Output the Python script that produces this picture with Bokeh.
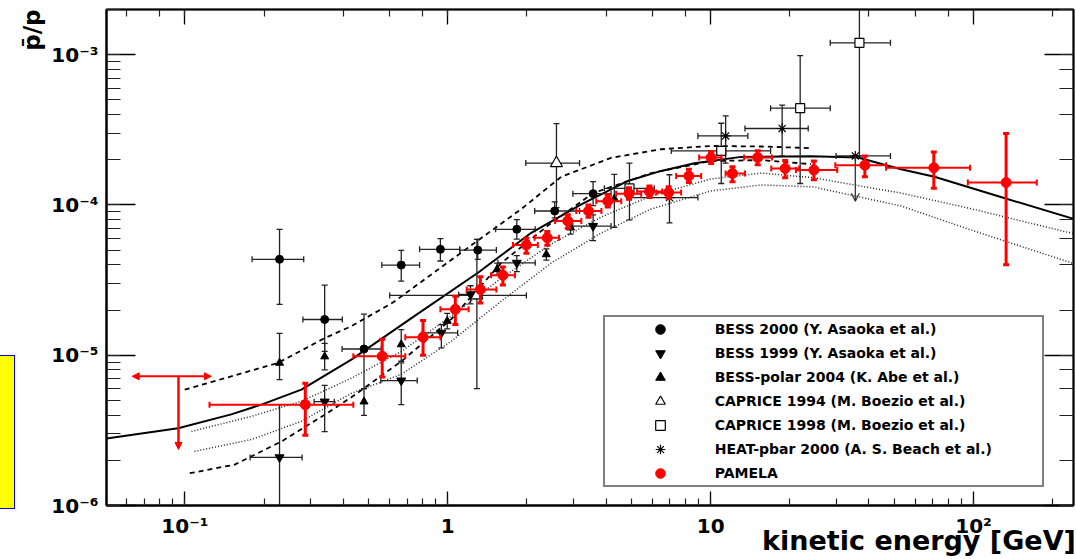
import numpy as np
from bokeh.plotting import figure
from bokeh.models import (Range1d, LogAxis, LogTicker, CustomJSTickFormatter, Legend, LegendItem,
                          Arrow, NormalHead, OpenHead, Div, ColumnDataSource, Title)
from bokeh.layouts import row
from bokeh.embed import file_html
from bokeh.resources import INLINE

# ---------------- data ----------------
# PAMELA
pam_x = [0.287, 0.563, 0.805, 1.068, 1.33, 1.62, 1.99, 2.39, 2.86, 3.43, 4.06, 4.89, 5.85, 6.92, 8.26,
         10.04, 12.1, 15.1, 19.2, 24.7, 38.6, 70.6, 133]
pam_y = [4.69e-6, 9.85e-6, 1.32e-5, 2.02e-5, 2.74e-5, 3.41e-5, 5.41e-5, 6.05e-5, 7.82e-5, 9.12e-5, 1.06e-4,
         1.19e-4, 1.23e-4, 1.21e-4, 1.56e-4, 2.07e-4, 1.62e-4, 2.07e-4, 1.75e-4, 1.71e-4, 1.84e-4, 1.77e-4, 1.41e-4]
pam_ylo = [2.93e-6, 7.17e-6, 1.0e-5, 1.6e-5, 2.23e-5, 2.93e-5, 4.78e-5, 5.4e-5, 7.0e-5, 8.3e-5, 9.7e-5,
           1.09e-4, 1.12e-4, 1.11e-4, 1.41e-4, 1.89e-4, 1.43e-4, 1.85e-4, 1.52e-4, 1.47e-4, 1.54e-4, 1.29e-4, 4.0e-5]
pam_yhi = [6.5e-6, 1.28e-5, 1.70e-5, 2.47e-5, 3.33e-5, 3.86e-5, 6.0e-5, 6.67e-5, 8.6e-5, 1.0e-4, 1.17e-4,
           1.3e-4, 1.34e-4, 1.32e-4, 1.73e-4, 2.27e-4, 1.8e-4, 2.3e-4, 1.98e-4, 1.96e-4, 2.12e-4, 2.25e-4, 2.99e-4]
pam_xlo = [0.124, 0.437, 0.689, 0.937, 1.18, 1.46, 1.77, 2.14, 2.56, 3.08, 3.67, 4.37, 5.25, 6.21, 7.39,
           9.04, 11.4, 13.4, 17.0, 21.1, 29.8, 46.5, 95.1]
pam_xhi = [0.437, 0.689, 0.937, 1.20, 1.53, 1.80, 2.20, 2.65, 3.22, 3.84, 4.57, 5.44, 6.54, 7.72, 9.20,
           11.0, 13.5, 17.1, 21.7, 30.3, 46.5, 97.0, 174]
# PAMELA upper limit
pam_ul_x = 0.0945
pam_ul_y = 7.24e-6
pam_ul_xlo = 0.063
pam_ul_xhi = 0.126
pam_ul_ylo = 2.36e-6

# BESS 2000
b00_x = [0.229, 0.340, 0.480, 0.665, 0.937, 1.30, 1.83, 2.55, 3.57]
b00_y = [4.35e-5, 1.73e-5, 1.10e-5, 3.98e-5, 5.07e-5, 5.01e-5, 6.89e-5, 9.12e-5, 1.19e-4]
b00_ylo = [2.18e-5, 1.06e-5, 6.0e-6, 3.11e-5, 4.24e-5, 4.35e-5, 5.93e-5, 8.2e-5, 9.9e-5]
b00_yhi = [6.89e-5, 2.93e-5, 1.88e-5, 4.99e-5, 5.97e-5, 5.9e-5, 8.0e-5, 1.05e-4, 1.43e-4]
b00_xlo = [0.180, 0.281, 0.396, 0.561, 0.781, 1.11, 1.52, 2.14, 2.99]
b00_xhi = [0.283, 0.397, 0.558, 0.781, 1.11, 1.53, 2.15, 3.17, 4.18]

# BESS 1999
b99_x = [0.229, 0.340, 0.665, 0.945, 1.22, 1.83, 3.57]
b99_y = [2.09e-6, 4.91e-6, 6.78e-6, 1.41e-5, 2.54e-5, 4.12e-5, 7.24e-5]
b99_ylo = [5e-7, 3.1e-6, 4.69e-6, 1.12e-5, 2.2e-5, 3.6e-5, 5.8e-5]
b99_yhi = [4.69e-6, 6.3e-6, 8.89e-6, 1.6e-5, 2.9e-5, 4.6e-5, 8.6e-5]
b99_xlo = [0.177, 0.31, 0.556, 0.80, 1.10, 1.55, 2.99]
b99_xhi = [0.279, 0.37, 0.765, 1.09, 1.35, 2.15, 4.18]

# BESS-polar 2004
bp_x = [0.229, 0.340, 0.480, 0.665, 0.995, 1.54, 2.37, 2.93, 4.30]
bp_y = [8.89e-6, 9.8e-6, 4.91e-6, 1.18e-5, 1.69e-5, 3.73e-5, 4.69e-5, 7.06e-5, 1.10e-4]
bp_ylo = [6.89e-6, 8.0e-6, 3.98e-6, 9.12e-6, 1.5e-5, 3.4e-5, 4.3e-5, 6.4e-5, 7.1e-5]
bp_yhi = [1.40e-5, 1.2e-5, 6.0e-6, 1.48e-5, 1.9e-5, 4.1e-5, 5.1e-5, 7.8e-5, 1.6e-4]

# CAPRICE 1994
c94_x = [1.29, 2.59]
c94_y = [2.50e-5, 1.90e-4]
c94_ylo = [6.0e-6, 9.6e-5]
c94_yhi = [5.91e-5, 3.48e-4]
c94_xlo = [0.601, 1.98]
c94_xhi = [1.99, 3.17]

# CAPRICE 1998
c98_x = [4.91, 10.97, 21.9, 36.8]
c98_y = [1.29e-4, 2.29e-4, 4.41e-4, 1.2e-3]
c98_ylo = [7.97e-5, 1.39e-4, 1.39e-4, 2.07e-4]
c98_yhi = [1.9e-4, 3.5e-4, 9.86e-4, 3.0e-3]
c98_xlo = [3.94, 7.08, 16.9, 28.5]
c98_xhi = [6.10, 16.9, 28.5, 48.3]

# HEAT-pbar 2000
heat_x = [6.97, 11.4, 18.7]
heat_y = [1.12e-4, 2.88e-4, 3.23e-4]
heat_ylo = [7.6e-5, 1.9e-4, 2.12e-4]
heat_yhi = [1.59e-4, 3.92e-4, 4.62e-4]
heat_xlo = [4.99, 8.94, 13.5]
heat_xhi = [8.94, 13.85, 23.5]
heat_ul_x = 35.5
heat_ul_y = 2.12e-4
heat_ul_ylo = 1.06e-4
heat_ul_xlo = 30.0
heat_ul_xhi = 48.3

# theoretical curves
solid_x = [0.0503, 0.0942, 0.150, 0.1954, 0.2773, 0.4296, 0.746, 1.302, 2.077, 3.219, 4.84, 6.48, 8.68,
           13.07, 24.1, 36.3, 53.0, 71.0, 127, 243]
solid_y = [2.79e-6, 3.27e-6, 4.04e-6, 4.69e-6, 5.91e-6, 9.36e-6, 1.82e-5, 3.54e-5, 6.53e-5, 1.01e-4, 1.445e-4,
           1.686e-4, 1.897e-4, 2.09e-4, 2.11e-4, 2.07e-4, 1.73e-4, 1.54e-4, 1.13e-4, 8.03e-5]
dashU_x = [0.0998, 0.226, 0.340, 0.4296, 0.62, 0.866, 1.341, 1.904, 2.70, 4.18, 6.48, 10.0, 15.6, 24.1]
dashU_y = [5.90e-6, 8.89e-6, 1.30e-5, 1.56e-5, 2.25e-5, 3.45e-5, 6.03e-5, 9.40e-5, 1.54e-4, 2.06e-4, 2.35e-4,
           2.47e-4, 2.45e-4, 2.39e-4]
dashL_x = [0.1043, 0.1546, 0.233, 0.340, 0.4296, 0.666, 1.031, 1.597, 2.475, 3.574, 5.94, 10.0, 15.6, 24.1]
dashL_y = [1.64e-6, 1.87e-6, 2.67e-6, 4.02e-6, 5.25e-6, 9.12e-6, 1.74e-5, 4.11e-5, 7.59e-5, 1.20e-4, 1.63e-4,
           1.96e-4, 1.99e-4, 1.87e-4]
dotU_x = [0.1059, 0.179, 0.2773, 0.4296, 0.666, 1.031, 1.597, 2.475, 3.835, 5.94, 10.0, 15.6, 24.5, 53.0, 95.3, 243]
dotU_y = [3.11e-6, 3.92e-6, 4.94e-6, 7.03e-6, 1.06e-5, 1.82e-5, 3.26e-5, 5.50e-5, 8.32e-5, 1.15e-4, 1.49e-4,
          1.63e-4, 1.52e-4, 1.20e-4, 9.55e-5, 6.41e-5]
dotL_x = [0.1087, 0.179, 0.2773, 0.4296, 0.666, 1.031, 1.597, 2.475, 3.835, 5.94, 10.0, 15.6, 24.5, 53.0, 95.3, 243]
dotL_y = [2.29e-6, 2.75e-6, 3.63e-6, 5.58e-6, 7.47e-6, 1.24e-5, 2.29e-5, 4.11e-5, 6.51e-5, 9.40e-5, 1.24e-4,
          1.36e-4, 1.32e-4, 9.85e-5, 6.92e-5, 4.05e-5]

legend_labels = ["BESS 2000 (Y. Asaoka et al.)", "BESS 1999 (Y. Asaoka et al.)", "BESS-polar 2004 (K. Abe et al.)",
                 "CAPRICE 1994 (M. Boezio et al.)", "CAPRICE 1998 (M. Boezio et al.)",
                 "HEAT-pbar 2000 (A. S. Beach et al.)", "PAMELA"]
x_title = "kinetic energy [GeV]"
y_title = "p\u0304/p"

FONT = "DejaVu Sans"

# ---------------- figure ----------------
p = figure(width=1060, height=559, x_axis_type="log", y_axis_type="log",
           x_range=Range1d(0.0503, 240), y_range=Range1d(1e-6, 2e-3),
           output_backend="svg", toolbar_location=None,
           min_border_left=89, min_border_right=3, min_border_top=9, min_border_bottom=54)
p.grid.visible = False
p.outline_line_color = "black"
p.outline_line_width = 2
p.background_fill_color = "white"
p.border_fill_color = "white"

fmt_code = """
const e = Math.round(Math.log10(tick));
if (e === 0) return "1";
if (e === 1) return "10";
const sup = {"-": "\u207B", "0": "\u2070", "1": "\u00B9", "2": "\u00B2", "3": "\u00B3", "4": "\u2074",
             "5": "\u2075", "6": "\u2076", "7": "\u2077", "8": "\u2078", "9": "\u2079"};
let s = "";
for (const c of String(e)) s += sup[c];
return "10" + s;
"""


def style_axis(ax, tin, tmin):
    ax.major_tick_in = tin
    ax.major_tick_out = 0
    ax.minor_tick_in = tmin
    ax.minor_tick_out = 0
    ax.major_tick_line_color = "black"
    ax.minor_tick_line_color = "#222222"
    ax.major_tick_line_width = 1.3
    ax.minor_tick_line_width = 1.2
    ax.axis_line_color = "black"
    ax.axis_line_width = 2
    ax.major_label_text_font = FONT
    ax.major_label_text_font_style = "bold"
    ax.major_label_text_font_size = "20px"
    ax.major_label_text_color = "black"


xa = p.xaxis[0]
ya = p.yaxis[0]
style_axis(xa, 14, 7)
style_axis(ya, 29, 14)
xa.formatter = CustomJSTickFormatter(code=fmt_code)
ya.formatter = CustomJSTickFormatter(code=fmt_code)
xa.major_label_standoff = 8
ya.major_label_standoff = 8

# x title: ROOT puts it at the right end of the axis; the centred axis label is
# pushed right with leading no-break spaces
xa.axis_label = "\u00a0" * 70 + x_title
xa.axis_label_text_font = FONT
xa.axis_label_text_font_style = "bold"
xa.axis_label_text_font_size = "27px"
xa.axis_label_text_color = "black"
xa.axis_label_standoff = -16
xa.axis_label_align = "center"
# y title at the top end of the axis
p.add_layout(Title(text=y_title, align="right", vertical_align="top", standoff=4, text_font=FONT,
                   text_font_style="bold", text_font_size="23px", text_color="black"), "left")

top_ax = LogAxis(ticker=LogTicker(), formatter=CustomJSTickFormatter(code="return ''"),
                 major_label_standoff=0)
style_axis(top_ax, 15, 7)
top_ax.axis_line_width = 1.5
p.add_layout(top_ax, "above")
right_ax = LogAxis(ticker=LogTicker(), formatter=CustomJSTickFormatter(code="return ''"),
                   major_label_standoff=0)
style_axis(right_ax, 29, 14)
right_ax.axis_line_width = 1.5
p.add_layout(right_ax, "right")

# ---------------- curves ----------------
p.line(dotU_x, dotU_y, line_color="#222222", line_width=1.5, line_dash="1 2")
p.line(dotL_x, dotL_y, line_color="#222222", line_width=1.5, line_dash="1 2")
p.line(dashU_x, dashU_y, line_color="black", line_width=1.8, line_dash="5 4")
p.line(dashL_x, dashL_y, line_color="black", line_width=1.8, line_dash="5 4")
p.line(solid_x, solid_y, line_color="black", line_width=2)


def draw_err(x, y, ylo, yhi, xlo=None, xhi=None, color="#222222", lwv=1.3, lwh=1.3, cap=6):
    src = ColumnDataSource(dict(x=x, y=y, ylo=ylo, yhi=yhi))
    p.segment(x0="x", y0="ylo", x1="x", y1="yhi", source=src, line_color=color, line_width=lwv)
    p.scatter(x="x", y="ylo", marker="dash", size=cap, line_color=color, line_width=lwv, source=src)
    p.scatter(x="x", y="yhi", marker="dash", size=cap, line_color=color, line_width=lwv, source=src)
    if xlo is not None:
        src2 = ColumnDataSource(dict(y=y, xlo=xlo, xhi=xhi))
        p.segment(x0="xlo", y0="y", x1="xhi", y1="y", source=src2, line_color=color, line_width=lwh)
        p.scatter(x="xlo", y="y", marker="dash", angle=np.pi / 2, size=cap, line_color=color,
                  line_width=lwh, source=src2)
        p.scatter(x="xhi", y="y", marker="dash", angle=np.pi / 2, size=cap, line_color=color,
                  line_width=lwh, source=src2)


draw_err(b00_x, b00_y, b00_ylo, b00_yhi, b00_xlo, b00_xhi)
draw_err(b99_x, b99_y, b99_ylo, b99_yhi, b99_xlo, b99_xhi)
draw_err(bp_x, bp_y, bp_ylo, bp_yhi)
draw_err(c94_x, c94_y, c94_ylo, c94_yhi, c94_xlo, c94_xhi)
draw_err(c98_x, c98_y, c98_ylo, c98_yhi, c98_xlo, c98_xhi)
draw_err(heat_x, heat_y, heat_ylo, heat_yhi, heat_xlo, heat_xhi)
draw_err([heat_ul_x], [heat_ul_y], [heat_ul_y], [heat_ul_y], [heat_ul_xlo], [heat_ul_xhi])
p.add_layout(Arrow(x_start=heat_ul_x, y_start=heat_ul_y, x_end=heat_ul_x, y_end=heat_ul_ylo,
                   end=OpenHead(size=8, line_color="#333333", line_width=1.2),
                   line_color="#333333", line_width=1.3))

r_b00 = p.scatter(b00_x, b00_y, marker="circle", size=8, fill_color="black", line_color="black")
r_b99 = p.scatter(b99_x, b99_y, marker="inverted_triangle", size=9, fill_color="black", line_color="black")
r_bp = p.scatter(bp_x, bp_y, marker="triangle", size=8, fill_color="black", line_color="black")
r_c94 = p.scatter(c94_x, c94_y, marker="triangle", size=12, fill_color="white", line_color="black", line_width=1.2)
r_c98 = p.scatter(c98_x, c98_y, marker="square", size=9, fill_color="white", line_color="black", line_width=1.2)
r_heat = p.scatter(heat_x + [heat_ul_x], heat_y + [heat_ul_y], marker="asterisk", size=10,
                   line_color="black", line_width=1.2)

# PAMELA
draw_err(pam_x, pam_y, pam_ylo, pam_yhi, pam_xlo, pam_xhi, color="#ff0000", lwv=3, lwh=2, cap=6)
r_pam = p.scatter(pam_x, pam_y, marker="circle", size=10, fill_color="#ff0000", line_color="#ff0000")
p.add_layout(Arrow(x_start=pam_ul_x, y_start=pam_ul_y, x_end=pam_ul_x, y_end=pam_ul_ylo,
                   end=NormalHead(size=7, fill_color="#ff0000", line_color="#ff0000"),
                   line_color="#ff0000", line_width=2.5))
p.add_layout(Arrow(x_start=pam_ul_xlo, y_start=pam_ul_y, x_end=pam_ul_xhi, y_end=pam_ul_y,
                   start=NormalHead(size=7, fill_color="#ff0000", line_color="#ff0000"),
                   end=NormalHead(size=7, fill_color="#ff0000", line_color="#ff0000"),
                   line_color="#ff0000", line_width=2))

# ---------------- legend ----------------
rends = [r_b00, r_b99, r_bp, r_c94, r_c98, r_heat, r_pam]
legend = Legend(items=[LegendItem(label=l, renderers=[r]) for l, r in zip(legend_labels, rends)],
                location=(496.7, 18.3), orientation="vertical", padding=0, margin=0, spacing=0,
                glyph_width=110, glyph_height=24, label_height=24, label_width=327, label_standoff=0,
                border_line_color="black", border_line_width=2, background_fill_color="white",
                background_fill_alpha=1.0, label_text_font=FONT, label_text_font_style="bold",
                label_text_font_size="14px", label_text_color="black")
p.add_layout(legend, "center")

box = Div(text='<div style="margin-top:355px;width:15px;height:154px;background:#ffff00;'
               'border:1px solid #0000ff;border-left:none;"></div>', width=16, height=559,
          margin=(0, 0, 0, 0))

layout = row(box, p, spacing=0)
open("out.html", "w").write(file_html(layout, INLINE))
